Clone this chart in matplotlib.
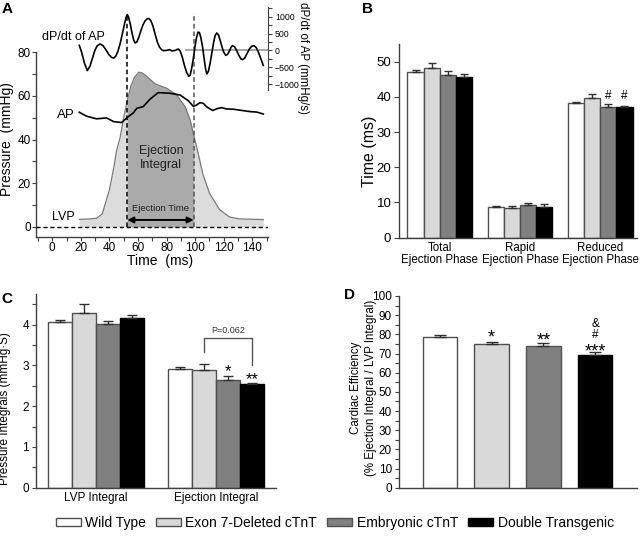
import numpy as np
import matplotlib
matplotlib.use('Agg')
import matplotlib.pyplot as plt
from matplotlib.patches import Patch
from matplotlib.ticker import MultipleLocator, FixedLocator

plt.rcParams['font.family'] = ['Liberation Sans', 'DejaVu Sans']
NARROW = ['Liberation Sans Narrow', 'Liberation Sans', 'DejaVu Sans']

# ---------------- data ----------------
groups = ['Wild Type', 'Exon 7-Deleted cTnT', 'Embryonic cTnT', 'Double Transgenic']
bar_colors = ['#ffffff', '#d9d9d9', '#808080', '#000000']

# Panel A traces (time ms, pressure mmHg / dP/dt mmHg/s)
lvp_t = [18.9, 25, 31, 35, 40, 43, 45, 47.5, 50, 52.5, 55, 57.5, 60.5, 63, 66, 72, 80, 87,
         93, 96.5, 99, 102, 105.5, 110, 117, 124, 131, 140, 147.7]
lvp_p = [3.5, 3.6, 4.0, 6.0, 17, 27, 35, 41, 50, 58, 64.5, 68.5, 70.8, 70.5, 69, 65.5, 63.5, 60.5,
         55, 49, 42, 34, 24, 15.5, 8, 4.6, 3.7, 3.5, 3.4]
ap_t = [18.9, 24, 31, 38, 43, 48.5, 53.2, 56.7, 59.1, 63.7, 68.4, 74.2, 82.4, 89.4, 95.2, 98.7,
        101, 103.4, 105.7, 108, 112.3, 115.5, 118.6, 122, 126.7, 132, 138.4, 143, 147.7]
ap_p = [52.5, 50.7, 49.5, 49.9, 48.2, 47.8, 50.5, 52.2, 54.3, 55.1, 58.5, 61.5, 61.2, 60.4, 57.8, 55.2,
        55.8, 56.9, 56.6, 55.0, 53.3, 54.2, 54.6, 54.0, 53.9, 53.4, 52.8, 52.6, 51.7]
dpdt_t = [18.9, 20.5, 22.5, 24.5, 26.3, 28, 29.8, 31.5, 33.5, 35.5, 37.5, 39.5, 41.5, 43, 44.5, 46,
          47.5, 49, 50.5, 51.8, 52.5, 53.3, 54.5, 55.8, 57, 58, 59.2, 60.5, 62, 63.5, 65, 66.5, 67.7,
          69, 70.5, 72, 73.5, 75, 76.5, 78, 80, 82, 84, 86, 88.2, 89.5, 91, 92.5, 94, 95.5, 96.5,
          97.5, 98.7, 99.8, 100.8, 102, 103, 104, 105.2, 106.3, 107.3, 108.2, 109.3, 110.5, 111.8,
          113, 114, 115.1, 116.3, 117.5, 118.8, 120, 121.4, 122.7, 124, 125, 126, 127.5, 129, 130.5,
          132, 133.3, 134.8, 136.5, 138, 139.5, 141.2, 142.8, 144.3, 146, 147.7]
dpdt_v = [149, -50, -380, -600, -480, -250, 0, 140, 190, 140, 20, -120, -210, -230, -170, -20,
          200, 480, 780, 1000, 1060, 1000, 800, 520, 300, 220, 250, 380, 580, 760, 880, 940, 945,
          880, 720, 480, 250, 100, 20, -10, 0, 20, -20, 0, 40, -20, -200, -450, -650, -770, -740,
          -550, -250, 80, 350, 540, 530, 380, 100, -250, -550, -700, -620, -380, -50,
          250, 440, 517, 460, 300, 100, -50, -149, -120, -20, 80, 140, 110, 0, -140,
          -250, -276, -220, -80, 40, 120, 140, 80, -60, -250, -446]
ej_start, ej_end = 52.5, 99.0

# Panel B (ms): means and SEM per group (WT, Exon7-del, Embryonic, Double)
b_cats = ['Total\nEjection Phase', 'Rapid\nEjection Phase', 'Reduced\nEjection Phase']
b_total = [47.2, 48.1, 46.2, 45.7]
b_total_err = [0.4, 1.6, 1.3, 0.7]
b_rapid = [8.7, 8.3, 9.3, 8.6]
b_rapid_err = [0.4, 0.8, 0.45, 1.0]
b_reduced = [38.2, 39.8, 37.0, 37.0]
b_reduced_err = [0.4, 0.9, 1.0, 0.5]

# Panel C (mmHg*s)
c_cats = ['LVP Integral', 'Ejection Integral']
c_lvp = [4.07, 4.27, 4.02, 4.15]
c_lvp_err = [0.05, 0.24, 0.07, 0.09]
c_ej = [2.91, 2.88, 2.64, 2.53]
c_ej_err = [0.05, 0.16, 0.09, 0.04]

# Panel D (%)
d_eff = [78.8, 75.0, 73.9, 69.4]
d_eff_err = [1.0, 1.2, 1.4, 1.2]

# ---------------- figure ----------------
W, H = 640, 538
fig = plt.figure(figsize=(W / 100, H / 100), dpi=100)


def rect(l, t, r, b):
    return [l / W, 1 - b / H, (r - l) / W, (b - t) / H]


SPC = '#404040'


def style(ax):
    for s in ['top', 'right']:
        ax.spines[s].set_visible(False)
    for s in ['left', 'bottom']:
        ax.spines[s].set_color(SPC)
        ax.spines[s].set_linewidth(1.0)
    ax.tick_params(which='both', direction='out', color=SPC, width=0.8)


# ===== Panel A =====
axA = fig.add_axes(rect(36, 5, 268, 237))
axA.set_xlim(-11.4, 151)
axA.set_ylim(-4.6, 101.6)
style(axA)
axA.spines['left'].set_bounds(-4.6, 80)
t = np.array(lvp_t)
p = np.array(lvp_p)
axA.fill_between(t, 0, p, color='#dcdcdc', lw=0, zorder=1)
m = (t >= ej_start) & (t <= ej_end)
axA.fill_between(t[m], 0, p[m], color='#aaaaaa', lw=0, zorder=2)
axA.plot(t, p, color='#7a7a7a', lw=0.9, zorder=3)
axA.plot(ap_t, ap_p, color='black', lw=1.2, zorder=5)
axA.axhline(0, ls=(0, (3, 2)), color='black', lw=1.0, zorder=4)
axA.plot([ej_start, ej_start], [0, 98], ls=(0, (3, 2)), color='black', lw=1.1, zorder=4)
axA.plot([ej_end, ej_end], [0, 98], ls=(0, (3, 2)), color='#555555', lw=1.1, zorder=4)
axA.annotate('', xy=(ej_start, 3.2), xytext=(ej_end, 3.2),
             arrowprops=dict(arrowstyle='<|-|>', color='black', lw=1.4, shrinkA=0, shrinkB=0,
                             mutation_scale=9), zorder=6)
axA.text(76, 8.6, 'Ejection Time', ha='center', va='center', fontsize=6.8, family=NARROW, color='#222')
axA.text(76, 31.6, 'Ejection\nIntegral', ha='center', va='center', fontsize=9, family=NARROW,
         color='#222', linespacing=1.3)
axA.text(14.5, 87.1, 'dP/dt of AP', ha='center', va='center', fontsize=9, family=NARROW)
axA.text(15.5, 51.3, 'AP', ha='right', va='center', fontsize=9.5, family=NARROW)
axA.text(15.5, 4.6, 'LVP', ha='right', va='center', fontsize=9, family=NARROW)
axA.xaxis.set_major_locator(FixedLocator([0, 20, 40, 60, 80, 100, 120, 140]))
axA.xaxis.set_minor_locator(FixedLocator([-10, 10, 30, 50, 70, 90, 110, 130, 150]))
axA.yaxis.set_major_locator(FixedLocator([0, 20, 40, 60, 80]))
axA.yaxis.set_minor_locator(FixedLocator([10, 30, 50, 70]))
axA.tick_params(which='both', length=2.6, labelsize=8.5, labelfontfamily=NARROW, pad=1.2)
axA.text(-0.125, 0.422, 'Pressure  (mmHg)', transform=axA.transAxes, rotation=90, ha='center',
         va='center', fontsize=10, family=NARROW)
axA.text(0.534, -0.104, 'Time  (ms)', transform=axA.transAxes, ha='center', va='center',
         fontsize=10, family=NARROW)

axR = axA.twinx()
axR.set_ylim(-5547, 1348)
for s in ['left', 'top', 'bottom']:
    axR.spines[s].set_visible(False)
axR.spines['right'].set_bounds(-1180, 1300)
axR.spines['right'].set_color(SPC)
axR.plot([93.6, 151], [0, 0], color='#a0a0a0', lw=1.3, zorder=1)
axR.plot(dpdt_t, dpdt_v, color='black', lw=1.2, zorder=2)
axR.yaxis.set_major_locator(FixedLocator([-1000, -500, 0, 500, 1000]))
axR.yaxis.set_minor_locator(FixedLocator([-750, -250, 250, 750, 1250]))
axR.tick_params(which='both', direction='out', length=3, color=SPC, width=0.8, labelsize=6.3,
                labelfontfamily=NARROW, pad=2)
axR.text(1.152, 0.77, 'dP/dt of AP (mmHg/s)', transform=axA.transAxes, rotation=270,
         ha='center', va='center', fontsize=8.3, family=NARROW)


def bars(ax, centers, offsets, width, series, errs, capsize):
    for i in range(4):
        xs = np.asarray(centers) + offsets[i]
        vals = [s[i] for s in series]
        es = [e[i] for e in errs]
        ec = '#000000' if i == 3 else '#505050'
        ax.bar(xs, vals, width=width, color=bar_colors[i], edgecolor=ec, linewidth=1.0, zorder=2)
        ax.errorbar(xs, vals, yerr=[np.zeros(len(es)), es], fmt='none', ecolor='#303030',
                    elinewidth=1.0, capsize=capsize, capthick=1.0, zorder=3)


# ===== Panel B =====
axB = fig.add_axes(rect(399, 44.1, 637, 237.7))
style(axB)
axB.set_xlim(-0.51, 2.46)
axB.set_ylim(0, 55)
bw = 0.2025
offs = [-1.5 * bw, -0.5 * bw, 0.5 * bw, 1.5 * bw]
bars(axB, [0, 1, 2], offs, bw, [b_total, b_rapid, b_reduced],
     [b_total_err, b_rapid_err, b_reduced_err], 2.6)
axB.set_yticks([0, 10, 20, 30, 40, 50])
axB.tick_params(axis='y', length=3.5, labelsize=9.5, pad=2)
axB.set_xticks([0, 1, 2])
axB.set_xticklabels(b_cats, fontsize=8.3, linespacing=1.0)
axB.tick_params(axis='x', length=0, pad=3)
axB.text(-0.122, 0.444, 'Time (ms)', transform=axB.transAxes, rotation=90, ha='center',
         va='center', fontsize=11.5)
for i in (2, 3):
    axB.text(2 + offs[i], 39.3, '#', ha='center', va='baseline', fontsize=8.5)

# ===== Panel C =====
axC = fig.add_axes(rect(36, 293.9, 276, 487.7))
style(axC)
axC.set_xlim(-0.5, 1.5)
axC.set_ylim(0, 4.75)
cw = 0.2
coffs = [-0.3, -0.1, 0.1, 0.3]
bars(axC, [0, 1], coffs, cw, [c_lvp, c_ej], [c_lvp_err, c_ej_err], 3.5)
axC.yaxis.set_major_locator(FixedLocator([0, 1, 2, 3, 4]))
axC.yaxis.set_minor_locator(FixedLocator([0.5, 1.5, 2.5, 3.5, 4.5]))
axC.tick_params(axis='y', which='both', length=3, labelsize=8.5, pad=2)
axC.set_xticks([0, 1])
axC.set_xticklabels(c_cats, fontsize=8.5)
axC.tick_params(axis='x', length=0, pad=3)
axC.text(-0.129, 0.406, 'Pressure Integrals (mmHg·S)', transform=axC.transAxes, rotation=90,
         ha='center', va='center', fontsize=8.5)
axC.plot([0.9, 0.9, 1.3, 1.3], [3.33, 3.67, 3.67, 3.0], color='#555555', lw=1.0)
axC.text(1.1, 3.86, 'P=0.062', ha='center', va='center', fontsize=6.5, color='#333')
axC.text(1.1, 2.73, '*', ha='center', va='baseline', fontsize=12)
axC.text(1.3, 2.55, '**', ha='center', va='baseline', fontsize=12)

# ===== Panel D =====
axD = fig.add_axes(rect(399, 296, 637, 487.7))
style(axD)
axD.set_xlim(-0.793, 3.81)
axD.set_ylim(0, 100)
for i in range(4):
    ec = '#000000' if i == 3 else '#505050'
    axD.bar(i, d_eff[i], width=0.67, color=bar_colors[i], edgecolor=ec, linewidth=1.0, zorder=2)
axD.errorbar(range(4), d_eff, yerr=[np.zeros(4), d_eff_err], fmt='none', ecolor='#303030',
             elinewidth=1.0, capsize=4, capthick=1.0, zorder=3)
axD.yaxis.set_major_locator(MultipleLocator(10))
axD.yaxis.set_minor_locator(FixedLocator(list(range(5, 100, 10))))
axD.tick_params(axis='y', which='both', length=3, labelsize=8.5, pad=2)
axD.set_xticks([])
axD.text(-0.148, 0.52, 'Cardiac Efficiency\n(% Ejection Integral / LVP Integral)',
         transform=axD.transAxes, rotation=90, ha='center', va='center', fontsize=8.3,
         linespacing=1.3)
axD.text(1, 75.9, '*', ha='center', va='baseline', fontsize=13)
axD.text(2, 74.2, '**', ha='center', va='baseline', fontsize=13)
axD.text(3, 68.4, '***', ha='center', va='baseline', fontsize=13)
axD.text(3, 77.9, '#', ha='center', va='baseline', fontsize=8.5)
axD.text(3, 83.6, '&', ha='center', va='baseline', fontsize=8.5)

# panel letters
for lab, x, y in [('A', 2, 2), ('B', 362, 2), ('C', 1, 292), ('D', 344, 288)]:
    fig.text(x / W, 1 - y / H, lab, ha='left', va='top', fontsize=11, fontweight='bold')

# legend
handles = [Patch(facecolor=c, edgecolor=('#000000' if i == 3 else '#505050'), linewidth=1.0)
           for i, c in enumerate(bar_colors)]
fig.legend(handles, groups, loc='center', bbox_to_anchor=(0.523, 0.028), ncol=4, frameon=False,
           fontsize=10, handlelength=1.8, handleheight=0.5, handletextpad=0.3, columnspacing=0.75,
           borderpad=0, borderaxespad=0)

fig.savefig('out.png', dpi=100)
